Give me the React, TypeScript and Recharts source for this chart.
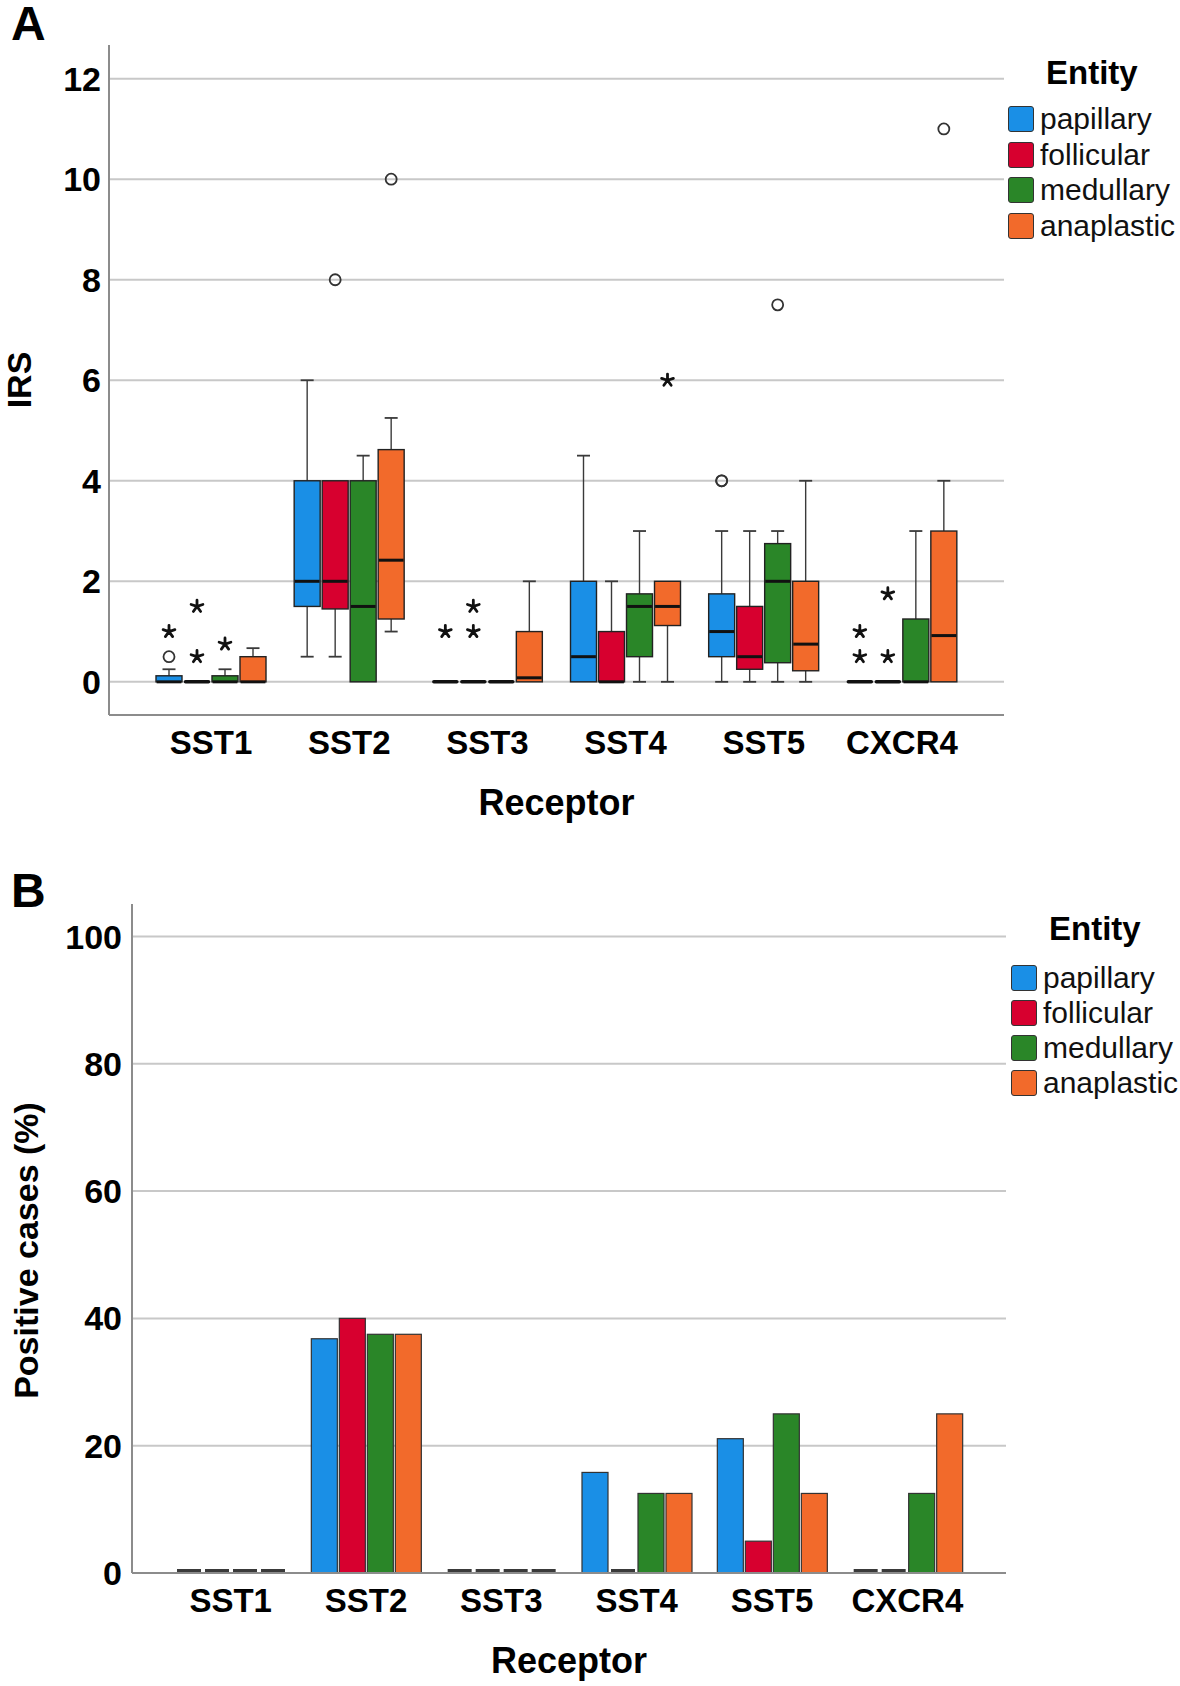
import { Bar, BarChart, ReferenceLine, XAxis, YAxis } from "recharts"

const FONT = "Arial, 'Liberation Sans', Helvetica, sans-serif"

const receptors = ["SST1", "SST2", "SST3", "SST4", "SST5", "CXCR4"]
const entities = ["papillary", "follicular", "medullary", "anaplastic"]
const entityColors = ["#1a8fe6", "#d7002f", "#2a8628", "#f26a2b"]

// IRS per receptor: [lower whisker, Q1, median, Q3, upper whisker]
const papillaryBox = [[0, 0, 0, 0.12, 0.25], [0.5, 1.5, 2, 4, 6], [0, 0, 0, 0, 0], [0, 0, 0.5, 2, 4.5], [0, 0.5, 1, 1.75, 3], [0, 0, 0, 0, 0]]
const follicularBox = [[0, 0, 0, 0, 0], [0.5, 1.45, 2, 4, 4], [0, 0, 0, 0, 0], [0, 0, 0, 1, 2], [0, 0.25, 0.5, 1.5, 3], [0, 0, 0, 0, 0]]
const medullaryBox = [[0, 0, 0, 0.12, 0.25], [0, 0, 1.5, 4, 4.5], [0, 0, 0, 0, 0], [0, 0.5, 1.5, 1.75, 3], [0, 0.38, 2, 2.75, 3], [0, 0, 0, 1.25, 3]]
const anaplasticBox = [[0, 0, 0, 0.5, 0.67], [1, 1.25, 2.42, 4.62, 5.25], [0, 0, 0.08, 1, 2], [0, 1.12, 1.5, 2, 2], [0, 0.22, 0.75, 2, 4], [0, 0, 0.92, 3, 4]]

// outliers (circles) and extremes (stars)
const papillaryCircles = [[0.5], [], [], [], [4, 4], []]
const follicularCircles = [[], [8], [], [], [], []]
const medullaryCircles = [[], [], [], [], [7.5], []]
const anaplasticCircles = [[], [10], [], [], [], [11]]
const papillaryStars = [[1], [], [1], [], [], [0.5, 1]]
const follicularStars = [[0.5, 1.5], [], [1, 1.5], [], [], [0.5, 1.75]]
const medullaryStars = [[0.75], [], [], [], [], []]
const anaplasticStars = [[], [], [], [6], [], []]

const irsTicks = [0, 2, 4, 6, 8, 10, 12]

// positive cases (%)
const papillaryPct = [0, 36.8, 0, 15.8, 21.1, 0]
const follicularPct = [0, 40, 0, 0, 5, 0]
const medullaryPct = [0, 37.5, 0, 12.5, 25, 12.5]
const anaplasticPct = [0, 37.5, 0, 12.5, 12.5, 25]

const pctTicks = [0, 20, 40, 60, 80, 100]

const boxSets = [papillaryBox, follicularBox, medullaryBox, anaplasticBox]
const circleSets = [papillaryCircles, follicularCircles, medullaryCircles, anaplasticCircles]
const starSets = [papillaryStars, follicularStars, medullaryStars, anaplasticStars]
const pctSets = [papillaryPct, follicularPct, medullaryPct, anaplasticPct]

const irsData = receptors.map((receptor, i) => {
  const row: any = { receptor }
  entities.forEach((e, k) => {
    const all = [...boxSets[k][i], ...circleSets[k][i], ...starSets[k][i]]
    row[e] = [Math.min(...all), Math.max(...all)]
    row[e + "Box"] = boxSets[k][i]
    row[e + "Circles"] = circleSets[k][i]
    row[e + "Stars"] = starSets[k][i]
  })
  return row
})

const pctData = receptors.map((receptor, i) => {
  const row: any = { receptor }
  entities.forEach((e, k) => { row[e] = pctSets[k][i] })
  return row
})

function Asterisk({ cx, cy }: { cx: number; cy: number }) {
  const r = 6.2
  const d = [0, 1, 2, 3, 4].map((i) => {
    const a = ((-90 + i * 72) * Math.PI) / 180
    return `M${cx},${cy}L${cx + r * Math.cos(a)},${cy + r * Math.sin(a)}`
  }).join("")
  return <path d={d} stroke="#111" strokeWidth={2.8} strokeLinecap="round" />
}

function makeBoxShape(k: number) {
  const e = entities[k]
  return (props: any) => {
    const { x, y, width, height, payload } = props
    const [lo, hi] = payload[e]
    const [wLo, q1, med, q3, wHi] = payload[e + "Box"]
    const top = Math.min(y, y + height)
    const ppu = hi > lo ? Math.abs(height) / (hi - lo) : 0
    const toY = (v: number) => top + (hi - v) * ppu
    const cx = x + width / 2
    const cap = 6.5
    const hasBox = q3 > q1
    return (
      <g>
        {wHi > q3 && <line x1={cx} x2={cx} y1={toY(wHi)} y2={toY(q3)} stroke="#3a3a3a" strokeWidth={1.4} />}
        {wHi > q3 && <line x1={cx - cap} x2={cx + cap} y1={toY(wHi)} y2={toY(wHi)} stroke="#3a3a3a" strokeWidth={1.8} />}
        {wLo < q1 && <line x1={cx} x2={cx} y1={toY(q1)} y2={toY(wLo)} stroke="#3a3a3a" strokeWidth={1.4} />}
        {wLo < q1 && <line x1={cx - cap} x2={cx + cap} y1={toY(wLo)} y2={toY(wLo)} stroke="#3a3a3a" strokeWidth={1.8} />}
        {hasBox && (
          <rect x={x} y={toY(q3)} width={width} height={toY(q1) - toY(q3)} fill={entityColors[k]} stroke="#222" strokeWidth={1.4} />
        )}
        <line x1={x + (hasBox ? 0.6 : 1.5)} x2={x + width - (hasBox ? 0.6 : 1.5)} y1={toY(med)} y2={toY(med)} stroke="#111" strokeWidth={hasBox ? 3 : 3.5} strokeLinecap={hasBox ? "butt" : "round"} />
        {payload[e + "Circles"].map((v: number, i: number) => (
          <circle key={"c" + i} cx={cx} cy={toY(v)} r={5.5} fill="none" stroke="#333" strokeWidth={1.8} />
        ))}
        {payload[e + "Stars"].map((v: number, i: number) => (
          <Asterisk key={"s" + i} cx={cx} cy={toY(v)} />
        ))}
      </g>
    )
  }
}

function PctBar(props: any) {
  const { x, y, width, height, fill } = props
  if (!height || Math.abs(height) < 0.5) {
    // empty category: dark stub sitting on the axis line
    return <line x1={x + 1} x2={x + width - 1} y1={y - 2.5} y2={y - 2.5} stroke="#3a3a3a" strokeWidth={3} />
  }
  return <rect x={x} y={y} width={width} height={height} fill={fill} stroke="#333" strokeWidth={1.2} />
}

function XTitle(props: any) {
  const vb = props.viewBox
  if (!vb) return null
  return (
    <text x={vb.x + vb.width / 2} y={vb.y + 100} textAnchor="middle" fontSize={36} fontWeight={700} fontFamily={FONT} fill="#000">
      Receptor
    </text>
  )
}

function YTitle(props: any) {
  const vb = props.viewBox
  if (!vb) return null
  const x = vb.x + props.dx
  const y = vb.y + vb.height / 2 + (props.shift || 0)
  return (
    <text x={x} y={y} transform={`rotate(-90 ${x} ${y})`} textAnchor="middle" fontSize={34} fontWeight={700} fontFamily={FONT} fill="#000">
      {props.value}
    </text>
  )
}

function EntityLegend({ left, titleLeft, titleTop, rowTop, pitch }: { left: number; titleLeft: number; titleTop: number; rowTop: number; pitch: number }) {
  return (
    <>
      <div style={{ position: "absolute", left: titleLeft, top: titleTop, fontSize: 33, lineHeight: "33px", fontWeight: 700 }}>Entity</div>
      {entities.map((e, k) => (
        <div key={e} style={{ position: "absolute", left, top: rowTop + k * pitch, height: 26, display: "flex", alignItems: "center" }}>
          <div style={{ width: 26, height: 26, boxSizing: "border-box", background: entityColors[k], border: "1.5px solid #333", borderRadius: 3 }} />
          <span style={{ marginLeft: 6, fontSize: 30, lineHeight: "26px", color: "#111" }}>{e}</span>
        </div>
      ))}
    </>
  )
}

const axisLine = { stroke: "#8c8c8c", strokeWidth: 2 }
const yTick = { fill: "#000", fontSize: 34, fontWeight: 700, fontFamily: FONT }
const xTick = { fill: "#000", fontSize: 33, fontWeight: 700, fontFamily: FONT }

export default function App() {
  return (
    <div style={{ position: "absolute", left: 0, top: 0, width: 1180, height: 1686, background: "#fff", fontFamily: FONT, color: "#000" }}>
      <div style={{ position: "absolute", left: 0, top: 0, width: 1180, height: 840 }}>
        <BarChart width={1180} height={840} data={irsData} margin={{ top: 45, right: 176, bottom: 0, left: 0 }} barSize={26} barGap={2}>
          <XAxis dataKey="receptor" height={125} padding={{ left: 33, right: 33 }} interval={0} tickLine={false} tickSize={0} tickMargin={16} axisLine={axisLine} tick={xTick} label={<XTitle />} />
          <YAxis type="number" domain={[-0.66, 12.67]} ticks={irsTicks} width={109} tickLine={false} tickSize={0} tickMargin={8} axisLine={axisLine} tick={yTick} label={<YTitle value="IRS" dx={31} />} />
          {irsTicks.map((t) => (
            <ReferenceLine key={t} y={t} stroke="#c8c8c8" strokeWidth={2} zIndex={-1} />
          ))}
          {entities.map((e, k) => (
            <Bar key={e} dataKey={e} fill={entityColors[k]} shape={makeBoxShape(k)} isAnimationActive={false} />
          ))}
        </BarChart>
        <div style={{ position: "absolute", left: 11, top: 0, fontSize: 48, lineHeight: "48px", fontWeight: 700 }}>A</div>
        <EntityLegend left={1008} titleLeft={1046} titleTop={56} rowTop={106} pitch={35.6} />
      </div>
      <div style={{ position: "absolute", left: 0, top: 840, width: 1180, height: 846 }}>
        <BarChart width={1180} height={846} data={pctData} margin={{ top: 64, right: 174, bottom: 0, left: 0 }} barSize={26} barGap={2}>
          <XAxis dataKey="receptor" height={113} padding={{ left: 31, right: 31 }} interval={0} tickLine={false} tickSize={0} tickMargin={16} axisLine={axisLine} tick={xTick} label={<XTitle />} />
          <YAxis type="number" domain={[0, 105.1]} ticks={pctTicks} width={132} tickLine={false} tickSize={0} tickMargin={10} axisLine={axisLine} tick={yTick} label={<YTitle value="Positive cases (%)" dx={38} shift={12} />} />
          {pctTicks.map((t) => (
            <ReferenceLine key={t} y={t} stroke="#c8c8c8" strokeWidth={2} zIndex={-1} />
          ))}
          {entities.map((e, k) => (
            <Bar key={e} dataKey={e} fill={entityColors[k]} shape={<PctBar />} isAnimationActive={false} />
          ))}
        </BarChart>
        <div style={{ position: "absolute", left: 11, top: 27, fontSize: 48, lineHeight: "48px", fontWeight: 700 }}>B</div>
        <EntityLegend left={1011} titleLeft={1049} titleTop={72} rowTop={125} pitch={35} />
      </div>
    </div>
  )
}
